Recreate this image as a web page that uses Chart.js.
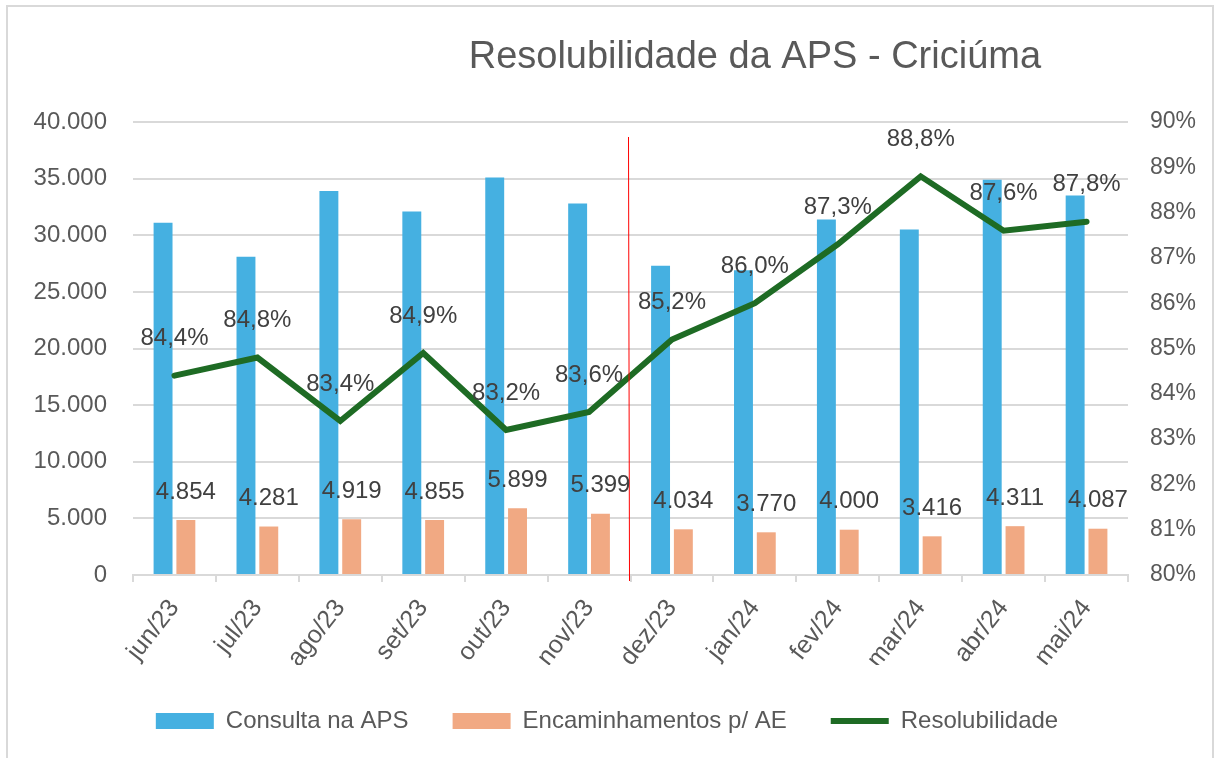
<!DOCTYPE html>
<html>
<head>
<meta charset="utf-8">
<script src="https://cdn.jsdelivr.net/npm/chart.js@4.4.1/dist/chart.umd.min.js"></script>
<style>
  html, body { margin: 0; padding: 0; background: #ffffff; }
  #wrap { position: relative; width: 1214px; height: 758px; overflow: hidden; }
  #frame { position: absolute; left: 6px; top: 5px; width: 1208px; height: 800px; border: 2px solid #d9d9d9; box-sizing: border-box; }
  canvas { position: absolute; left: 0; top: 0; }
</style>
</head>
<body>
<div id="wrap">
  <div id="frame"></div>
  <canvas id="c" width="1214" height="758"></canvas>
</div>
<script>
const titleText = 'Resolubilidade da APS - Criciúma';
const categories = ['jun/23','jul/23','ago/23','set/23','out/23','nov/23','dez/23','jan/24','fev/24','mar/24','abr/24','mai/24'];
const consultaAPS = [31100, 28100, 33900, 32100, 35100, 32800, 27300, 26900, 31400, 30500, 34900, 33500];
const encaminhamentosAE = [4854, 4281, 4919, 4855, 5899, 5399, 4034, 3770, 4000, 3416, 4311, 4087];
const resolubilidade = [84.4, 84.8, 83.4, 84.9, 83.2, 83.6, 85.2, 86.0, 87.3, 88.8, 87.6, 87.8];
const leftTicks = [0, 5000, 10000, 15000, 20000, 25000, 30000, 35000, 40000];
const rightTicks = [80, 81, 82, 83, 84, 85, 86, 87, 88, 89, 90];
const dividerAfterIndex = 5;

const FONT = '"Liberation Sans", Arial, sans-serif';
const GRAY = '#595959';
const LABEL = '#404040';

function fmtThousands(v) {
  return String(Math.round(v)).replace(/\B(?=(\d{3})+(?!\d))/g, '.');
}
function fmtPct1(v) { return v.toFixed(1).replace('.', ',') + '%'; }

const titlePlugin = {
  id: 'offsetTitle',
  afterDraw(chart) {
    const ctx = chart.ctx;
    const a = chart.chartArea;
    ctx.save();
    ctx.font = '38px ' + FONT;
    ctx.fillStyle = GRAY;
    ctx.textAlign = 'center';
    ctx.textBaseline = 'middle';
    ctx.fillText(titleText, a.left + (a.right - a.left) * 0.625, 58);
    ctx.restore();
  }
};

const overlayPlugin = {
  id: 'overlay',
  afterDatasetsDraw(chart) {
    const ctx = chart.ctx;
    const a = chart.chartArea;
    const xs = chart.scales.x;
    const xd = (xs.getPixelForValue(dividerAfterIndex) + xs.getPixelForValue(dividerAfterIndex + 1)) / 2;
    ctx.save();
    ctx.strokeStyle = '#ff0000';
    ctx.lineWidth = 1;
    ctx.beginPath();
    ctx.moveTo(xd - 2, a.top + 15);
    ctx.lineTo(xd - 1, a.bottom + 6);
    ctx.stroke();
    ctx.font = '24px ' + FONT;
    ctx.fillStyle = LABEL;
    ctx.textAlign = 'center';
    ctx.textBaseline = 'middle';
    const mBar = chart.getDatasetMeta(1);
    mBar.data.forEach((el, i) => {
      ctx.fillText(fmtThousands(encaminhamentosAE[i]), el.x, el.y - 28);
    });
    const mLine = chart.getDatasetMeta(2);
    mLine.data.forEach((el, i) => {
      ctx.fillText(fmtPct1(resolubilidade[i]), el.x, el.y - 37);
    });
    ctx.restore();
  }
};

new Chart(document.getElementById('c'), {
  data: {
    labels: categories,
    datasets: [
      { type: 'bar', label: 'Consulta na APS', data: consultaAPS, backgroundColor: '#45B0E1', borderWidth: 0, yAxisID: 'y', order: 1, categoryPercentage: 0.55, barPercentage: 0.83 },
      { type: 'bar', label: 'Encaminhamentos p/ AE', data: encaminhamentosAE, backgroundColor: '#F1A983', borderWidth: 0, yAxisID: 'y', order: 1, categoryPercentage: 0.55, barPercentage: 0.83 },
      { type: 'line', label: 'Resolubilidade', data: resolubilidade, borderColor: '#1E6B24', backgroundColor: '#1E6B24', borderWidth: 6, pointRadius: 0, tension: 0, yAxisID: 'y1', order: 0, borderCapStyle: 'round', borderJoinStyle: 'miter' }
    ]
  },
  options: {
    responsive: false,
    animation: false,
    devicePixelRatio: 1,
    layout: { padding: { top: 122, left: 0, right: 0, bottom: 15 } },
    plugins: {
      title: { display: false },
      tooltip: { enabled: false },
      legend: {
        position: 'bottom',
        labels: {
          font: { family: FONT, size: 24 },
          color: GRAY,
          usePointStyle: true,
          pointStyleWidth: 58,
          boxHeight: 16,
          padding: 44,
          sort: (a, b) => a.datasetIndex - b.datasetIndex,
          generateLabels(chart) {
            const items = Chart.defaults.plugins.legend.labels.generateLabels(chart);
            items.forEach(it => {
              if (it.datasetIndex === 2) { it.pointStyle = 'line'; it.lineWidth = 6; it.strokeStyle = '#1E6B24'; }
              else { it.pointStyle = 'rect'; it.lineWidth = 0; }
            });
            return items;
          }
        }
      }
    },
    scales: {
      x: {
        offset: true,
        grid: { display: true, drawOnChartArea: false, drawTicks: true, tickLength: 7, color: '#d9d9d9', lineWidth: 2, offset: true },
        border: { display: true, color: '#d9d9d9', width: 2 },
        ticks: { font: { family: FONT, size: 25 }, color: GRAY, minRotation: 52, maxRotation: 52, padding: 12, autoSkip: false },
        afterFit(scale) { scale.height = 90; }
      },
      y: {
        position: 'left',
        min: 0, max: 40000,
        afterBuildTicks(scale) { scale.ticks = leftTicks.map(v => ({ value: v })); },
        grid: { color: '#d9d9d9', lineWidth: 2, drawTicks: false },
        border: { display: false },
        ticks: { font: { family: FONT, size: 24 }, color: GRAY, padding: 26, callback: v => fmtThousands(v) },
        afterFit(scale) { scale.width = 133; }
      },
      y1: {
        position: 'right',
        min: 80, max: 90,
        afterBuildTicks(scale) { scale.ticks = rightTicks.map(v => ({ value: v })); },
        grid: { drawOnChartArea: false, drawTicks: false },
        border: { display: false },
        ticks: { font: { family: FONT, size: 23 }, color: GRAY, padding: 22, callback: v => v + '%' },
        afterFit(scale) { scale.width = 86; }
      }
    }
  },
  plugins: [titlePlugin, overlayPlugin]
});
</script>
</body>
</html>
